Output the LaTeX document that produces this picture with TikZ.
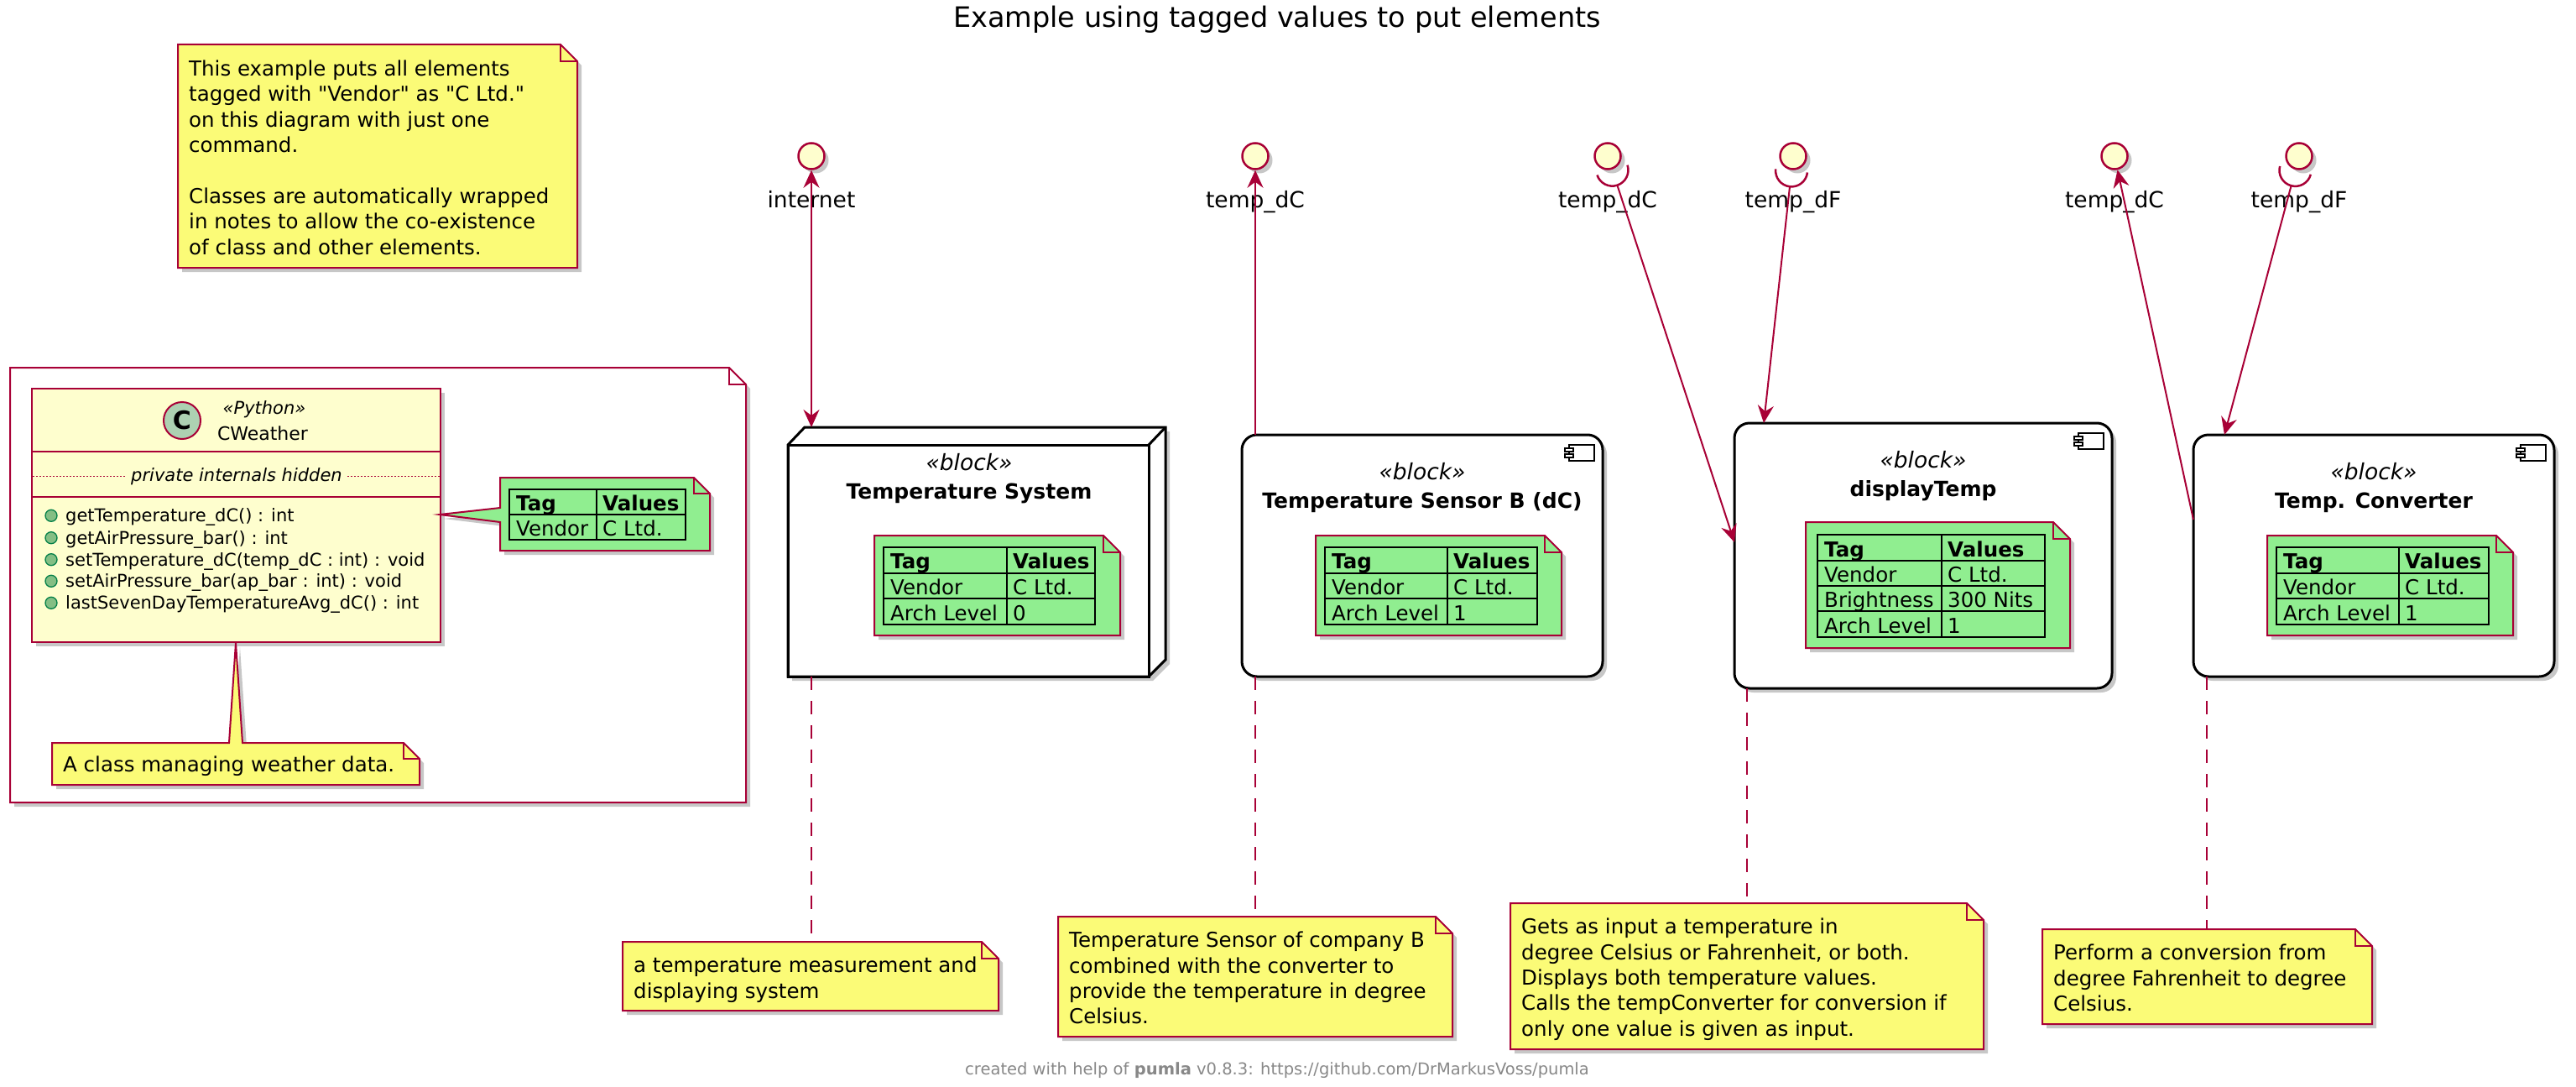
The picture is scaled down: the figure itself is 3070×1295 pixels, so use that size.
\documentclass[tikz,border=0pt]{standalone}
\usepackage{fontspec}
\setmainfont{DejaVu Sans}
\newfontfamily\qfont{DejaVu Sans}
\usetikzlibrary{arrows.meta,calc}
\definecolor{pred}{HTML}{A80036}
\definecolor{noteyel}{HTML}{FBFB77}
\definecolor{classbg}{HTML}{FEFECE}
\definecolor{tagsgreen}{HTML}{90EE90}
\definecolor{ciconc}{HTML}{ADD1B2}
\definecolor{mfill}{HTML}{84BE84}
\definecolor{mline}{HTML}{038048}
\definecolor{footgrey}{HTML}{888888}
\newcommand\myfs[2]{\fontsize{#1}{#2}\selectfont}
\newcommand\notefont{\myfs{24.5}{30.4}}
\newcommand\sq{{\qfont"}}
\newcommand\tagrow[6]{%
  \node[tagtxt] (#1a) at (#2+8,#4) {#5};
  \node[tagtxt] (#1b) at (#3+7,#4) {#6};}
\newcommand\tagtabthree[6]{%
  \draw[tabline] (#2,#5) rectangle (#4,#5+92) (#2,#5+30.67) -- (#4,#5+30.67)
     (#2,#5+61.33) -- (#4,#5+61.33) (#3,#5) -- (#3,#5+92);
  \tagrow{#1r1}{#2}{#3}{#5+25.7}{\bfseries Tag}{\bfseries Values}
  \tagrow{#1r2}{#2}{#3}{#5+56.3}{Vendor}{C Ltd.}
  \tagrow{#1r3}{#2}{#3}{#5+87}{Arch Level}{#6}}
\newcommand\compicon[2]{%
  \path[iconbox] (#1-30,#2) rectangle (#1,#2+19);
  \path[iconbox] (#1-35,#2+4) rectangle (#1-25,#2+8);
  \path[iconbox] (#1-35,#2+11) rectangle (#1-25,#2+15);}
\begin{document}
\begin{tikzpicture}[x=1pt,y=-1pt,line join=miter,
  shadowed/.style={preaction={fill=black,opacity=0.22,transform canvas={xshift=5pt,yshift=-5pt}}},
  notebox/.style={fill=noteyel,draw=pred,line width=2pt,shadowed},
  greennote/.style={fill=tagsgreen,draw=pred,line width=2pt,shadowed},
  framebox/.style={fill=white,draw=pred,line width=2pt,shadowed},
  foldline/.style={draw=pred,line width=2pt},
  compbox/.style={draw=black,fill=white,line width=3pt,rounded corners=18pt,inner sep=0pt,outer sep=0pt,shadowed},
  nodebox/.style={draw=black,fill=white,line width=3pt,shadowed},
  iconbox/.style={draw=black,fill=white,line width=2pt},
  iface/.style={circle,fill=classbg,draw=pred,line width=2.5pt,minimum size=31pt,inner sep=0pt,shadowed},
  socket/.style={draw=pred,line width=2.5pt},
  conn/.style={draw=pred,line width=2pt},
  endarrow/.style={-{Stealth[length=21pt,width=19pt,inset=7pt]}},
  dblarrow/.style={{Stealth[length=21pt,width=19pt,inset=7pt]}-{Stealth[length=21pt,width=19pt,inset=7pt]}},
  dashconn/.style={draw=pred,line width=2pt,dash pattern=on 16pt off 13pt},
  tabline/.style={draw=black,line width=2pt},
  tagtxt/.style={anchor=base west,inner sep=0pt,font=\myfs{24.5}{28}},
  notetxt/.style={anchor=north west,inner sep=0pt,align=left,font=\notefont},
  ilabel/.style={anchor=base,inner sep=0pt,font=\myfs{26.5}{30}},
  stereo/.style={anchor=base,inner sep=0pt,font=\myfs{26.5}{30}\itshape},
  bname/.style={anchor=base,inner sep=0pt,font=\myfs{25}{30}\bfseries},
  method/.style={anchor=base west,inner sep=0pt,font=\myfs{21}{26}},
  mdot/.style={circle,fill=mfill,draw=mline,line width=1.3pt,minimum size=14pt,inner sep=0pt}
]
\useasboundingbox (0,0) rectangle (3070,1295);
\fill[white] (0,0) rectangle (3070,1295);

% title
\node[anchor=base,inner sep=0pt,font=\myfs{33.5}{40}] (title) at (1522,33) {Example using tagged values to put elements};

% top-left note
\path[notebox] (212,53) -- (668,53) -- (688,73) -- (688,319) -- (212,319) -- cycle;
\draw[foldline] (668,53) -- (668,73) -- (688,73);
\node[notetxt] (topnote) at (225,71) {\rule{0pt}{19pt}This example puts all elements\\tagged with \sq Vendor\sq{} as \sq C Ltd.\sq\\on this diagram with just one\\command.\\[30.4pt]Classes are automatically wrapped\\in notes to allow the co-existence\\of class and other elements.};

% wrapping frame
\path[framebox] (12,438) -- (869,438) -- (889,458) -- (889,956) -- (12,956) -- cycle;
\draw[foldline] (869,438) -- (869,458) -- (889,458);

% class CWeather
\node[draw=pred,fill=classbg,line width=2pt,minimum width=487pt,minimum height=302pt,inner sep=0pt,outer sep=0pt,shadowed] (cweather) at (281.5,614) {};
\draw[pred,line width=2pt] (38,538) -- (525,538) (38,592) -- (525,592);
\draw[pred,line width=1pt,dash pattern=on 2pt off 2pt] (39,567) -- (150,567) (414,567) -- (524,567);
\node[anchor=base,inner sep=0pt,font=\myfs{21}{26}\itshape] (privhidden) at (282,573) {private internals hidden};
\node[circle,fill=ciconc,draw=pred,line width=2pt,minimum size=44pt,inner sep=0pt,font=\myfs{30}{30}\bfseries] (cicon) at (217,501) {C};
\node[anchor=base,inner sep=0pt,font=\myfs{21}{26}\itshape] (cstereo) at (315,493) {«Python»};
\node[anchor=base,inner sep=0pt,font=\myfs{22}{26}] (cname) at (313,524) {CWeather};
\node[mdot] (m1) at (61,614.3) {};
\node[mdot] (m2) at (61,640.7) {};
\node[mdot] (m3) at (61,666.7) {};
\node[mdot] (m4) at (61,692.3) {};
\node[mdot] (m5) at (61,718.3) {};
\node[method] (m1t) at (78,621.7) {getTemperature\_dC() : int};
\node[method] (m2t) at (78,648.1) {getAirPressure\_bar() : int};
\node[method] (m3t) at (78,674.1) {setTemperature\_dC(temp\_dC : int) : void};
\node[method] (m4t) at (78,699.7) {setAirPressure\_bar(ap\_bar : int) : void};
\node[method] (m5t) at (78,725.7) {lastSevenDayTemperatureAvg\_dC() : int};

% class tag note
\path[greennote] (596,569) -- (827,569) -- (846,588) -- (846,656) -- (596,656) -- (596,622) -- (524,613) -- (596,605) -- cycle;
\draw[foldline] (827,569) -- (827,588) -- (846,588);
\draw[tabline] (607,583) rectangle (817,643) (607,613) -- (817,613) (711,583) -- (711,643);
\tagrow{ctr1}{607}{711}{608}{\bfseries Tag}{\bfseries Values}
\tagrow{ctr2}{607}{711}{638}{Vendor}{C Ltd.}

% class description note
\path[notebox] (62,885) -- (273,885) -- (281,766) -- (289,885) -- (481,885) -- (500,904) -- (500,935) -- (62,935) -- cycle;
\draw[foldline] (481,885) -- (481,904) -- (500,904);
\node[notetxt] (cnote) at (75,900) {\rule{0pt}{19pt}A class managing weather data.};

% ---- Temperature System (node)
\path[nodebox] (939,530) -- (959,509) -- (1389,509) -- (1389,786) -- (1369,806) -- (939,806) -- cycle;
\node[draw=black,line width=3pt,minimum width=430pt,minimum height=276pt,inner sep=0pt,outer sep=0pt] (tsys) at (1154,668) {};
\draw[black,line width=3pt] (tsys.north east) -- ++(20,-21);
\node[stereo] (tsysst) at (1155,560) {«block»};
\node[bname] (tsysname) at (1155,594) {Temperature System};
\path[greennote] (1042,638) -- (1315,638) -- (1335,658) -- (1335,757) -- (1042,757) -- cycle;
\draw[foldline] (1315,638) -- (1315,658) -- (1335,658);
\tagtabthree{tsyst}{1053}{1200}{1305}{652}{0}

% ---- Temperature Sensor B
\node[compbox,minimum width=430pt,minimum height=288pt] (sensor) at (1695,662) {};
\compicon{1900}{530}
\node[stereo] (sensst) at (1695,571) {«block»};
\node[bname] (sensname) at (1695,605) {Temperature Sensor B (dC)};
\path[greennote] (1568,638) -- (1841,638) -- (1861,658) -- (1861,757) -- (1568,757) -- cycle;
\draw[foldline] (1841,638) -- (1841,658) -- (1861,658);
\tagtabthree{senst}{1579}{1725}{1832}{652}{1}

% ---- displayTemp
\node[compbox,minimum width=450pt,minimum height=316pt] (display) at (2292,662) {};
\compicon{2507}{516}
\node[stereo] (dispst) at (2292,557) {«block»};
\node[bname] (dispname) at (2292,591) {displayTemp};
\path[greennote] (2152,622) -- (2447,622) -- (2467,642) -- (2467,772) -- (2152,772) -- cycle;
\draw[foldline] (2447,622) -- (2447,642) -- (2467,642);
\draw[tabline] (2166,637) rectangle (2437,759) (2166,668) -- (2437,668) (2166,698) -- (2437,698)
   (2166,728) -- (2437,728) (2314,637) -- (2314,759);
\tagrow{dispr1}{2166}{2314}{663}{\bfseries Tag}{\bfseries Values}
\tagrow{dispr2}{2166}{2314}{693}{Vendor}{C Ltd.}
\tagrow{dispr3}{2166}{2314}{723}{Brightness}{300 Nits}
\tagrow{dispr4}{2166}{2314}{754}{Arch Level}{1}

% ---- Temp. Converter
\node[compbox,minimum width=430pt,minimum height=288pt] (conv) at (2829,662) {};
\compicon{3034}{530}
\node[stereo] (convst) at (2829,571) {«block»};
\node[bname] (convname) at (2829,605) {Temp. Converter};
\path[greennote] (2702,638) -- (2975,638) -- (2995,658) -- (2995,757) -- (2702,757) -- cycle;
\draw[foldline] (2975,638) -- (2975,658) -- (2995,658);
\tagtabthree{convt}{2713}{2859}{2966}{652}{1}

% ---- interfaces
\node[iface] (i1) at (967,186) {};
\node[iface] (i2) at (1496,186) {};
\node[iface] (i3) at (1916,186) {};
\node[iface] (i4) at (2137,186) {};
\node[iface] (i5) at (2520,186) {};
\node[iface] (i6) at (2740,186) {};
\node[ilabel] (l1) at (967,247) {internet};
\node[ilabel] (l2) at (1496,247) {temp\_dC};
\node[ilabel] (l3) at (1916,247) {temp\_dC};
\node[ilabel] (l4) at (2137,247) {temp\_dF};
\node[ilabel] (l5) at (2520,247) {temp\_dC};
\node[ilabel] (l6) at (2740,247) {temp\_dF};

% sockets (required interfaces)
\coordinate (c3) at ($(i3)+(71.8:17.5)$);
\coordinate (s3) at ($(c3)+(71.8:19)$);
\coordinate (c4) at ($(i4)+(96.3:17.5)$);
\coordinate (s4) at ($(c4)+(96.3:19)$);
\coordinate (c6) at ($(i6)+(105:17.5)$);
\coordinate (s6) at ($(c6)+(105:19)$);
\draw[socket] (c3) ++(-18.2:19) arc[start angle=-18.2,end angle=161.8,radius=19];
\draw[socket] (c4) ++(6.3:19) arc[start angle=6.3,end angle=186.3,radius=19];
\draw[socket] (c6) ++(15:19) arc[start angle=15,end angle=195,radius=19];

% connector end points on the boxes
\coordinate (tsysTop) at ($(tsys.north west)+(28,-21)$);
\coordinate (tsysBot) at ($(tsys.south west)+(28,0)$);
\coordinate (sensTop) at ($(sensor.north west)+(16,0)$);
\coordinate (sensBot) at ($(sensor.south west)+(16,0)$);
\coordinate (dispLeft) at ($(display.north west)+(0,142)$);
\coordinate (dispTop) at ($(display.north west)+(35,0)$);
\coordinate (dispBot) at ($(display.south west)+(15,0)$);
\coordinate (convLeft) at ($(conv.north west)+(0,101)$);
\coordinate (convTop) at ($(conv.north west)+(37,0)$);
\coordinate (convBot) at ($(conv.south west)+(16,0)$);

\draw[conn,dblarrow] (i1) -- (tsysTop);
\draw[conn,endarrow] (sensTop) -- (i2);
\draw[conn,endarrow] (s3) -- (dispLeft);
\draw[conn,endarrow] (s4) -- (dispTop);
\draw[conn,endarrow] (convLeft) -- (i5);
\draw[conn,endarrow] (s6) -- (convTop);

% ---- bottom notes
\coordinate (n1top) at (967,1122);
\coordinate (n2top) at (1496,1092);
\coordinate (n3top) at (2082,1076);
\coordinate (n4top) at (2630,1107);
\draw[dashconn] (tsysBot) -- (n1top);
\draw[dashconn] (sensBot) -- (n2top);
\draw[dashconn] (dispBot) -- (n3top);
\draw[dashconn] (convBot) -- (n4top);

\path[notebox] (742,1122) -- (1170,1122) -- (1190,1142) -- (1190,1204) -- (742,1204) -- cycle;
\draw[foldline] (1170,1122) -- (1170,1142) -- (1190,1142);
\node[notetxt] (note1) at (755,1139.5) {\rule{0pt}{19pt}a temperature measurement and\\displaying system};

\path[notebox] (1261,1092) -- (1711,1092) -- (1731,1112) -- (1731,1235) -- (1261,1235) -- cycle;
\draw[foldline] (1711,1092) -- (1711,1112) -- (1731,1112);
\node[notetxt] (note2) at (1274,1109.5) {\rule{0pt}{19pt}Temperature Sensor of company B\\combined with the converter to\\provide the temperature in degree\\Celsius.};

\path[notebox] (1800,1076) -- (2344,1076) -- (2364,1096) -- (2364,1250) -- (1800,1250) -- cycle;
\draw[foldline] (2344,1076) -- (2344,1096) -- (2364,1096);
\node[notetxt] (note3) at (1813,1093.5) {\rule{0pt}{19pt}Gets as input a temperature in\\degree Celsius or Fahrenheit, or both.\\Displays both temperature values.\\Calls the tempConverter for conversion if\\only one value is given as input.};

\path[notebox] (2434,1107) -- (2807,1107) -- (2827,1127) -- (2827,1220) -- (2434,1220) -- cycle;
\draw[foldline] (2807,1107) -- (2807,1127) -- (2827,1127);
\node[notetxt] (note4) at (2447,1124.5) {\rule{0pt}{19pt}Perform a conversion from\\degree Fahrenheit to degree\\Celsius.};

% footer
\node[anchor=base,inner sep=0pt,font=\myfs{19.5}{24},text=footgrey] (footer) at (1522,1280) {created with help of \textbf{pumla} v0.8.3: https://github.com/DrMarkusVoss/pumla};
\end{tikzpicture}
\end{document}
